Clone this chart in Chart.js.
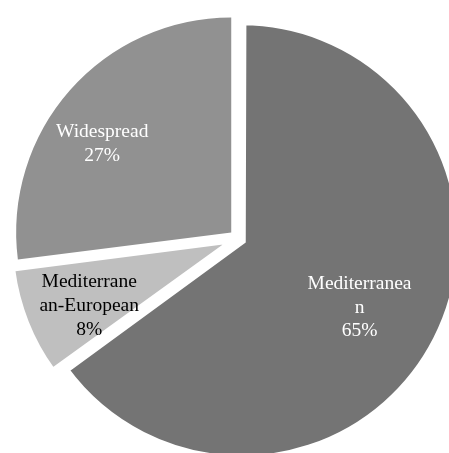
<!DOCTYPE html>
<html>
<head>
<meta charset="utf-8">
<script src="https://cdn.jsdelivr.net/npm/chart.js@4.4.1/dist/chart.umd.min.js"></script>
<style>
  html, body { margin: 0; padding: 0; background: #fff; }
  #wrap { width: 449px; height: 453px; }
</style>
</head>
<body>
<div id="wrap"><canvas id="pieChart" width="449" height="453"></canvas></div>
<script>
// Distribution of species by range type
const categories = ['Mediterranean', 'Mediterranean-European', 'Widespread'];
const shares = [65, 8, 27];
const sliceColors = ['#747474', '#bfbfbf', '#919191'];
const labelColors = ['#ffffff', '#000000', '#ffffff'];
// how the category names wrap inside the slices
const labelLines = [['Mediterranea', 'n'], ['Mediterrane', 'an-European'], ['Widespread']];

// label anchor: fraction of radius, angle shift from slice middle (degrees)
const labelAt = [
  { r: 0.65, da: 2.6 },
  { r: 0.76, da: -2.8 },
  { r: 0.77, da: -6.5 }
];

const total = shares.reduce((a, b) => a + b, 0);

const sliceLabels = {
  id: 'sliceLabels',
  afterDatasetsDraw(chart) {
    const ctx = chart.ctx;
    const meta = chart.getDatasetMeta(0);
    ctx.save();
    ctx.font = '19.5px "Liberation Serif", "Times New Roman", serif';
    ctx.textAlign = 'center';
    ctx.textBaseline = 'middle';
    const lineH = 23.8;
    meta.data.forEach((arc, i) => {
      const p = arc.getProps(['x', 'y', 'startAngle', 'endAngle', 'outerRadius'], true);
      const mid = (p.startAngle + p.endAngle) / 2 + labelAt[i].da * Math.PI / 180;
      const rr = p.outerRadius * labelAt[i].r;
      const cx = p.x + Math.cos(mid) * rr;
      const cy = p.y + Math.sin(mid) * rr;
      const lines = labelLines[i].concat([Math.round(shares[i] / total * 100) + '%']);
      ctx.fillStyle = labelColors[i];
      lines.forEach((txt, k) => {
        ctx.fillText(txt, cx, cy + (k - (lines.length - 1) / 2) * lineH);
      });
    });
    ctx.restore();
  }
};

const ctx = document.getElementById('pieChart').getContext('2d');
const pieChart = new Chart(ctx, {
  type: 'pie',
  data: {
    labels: categories,
    datasets: [{
      data: shares,
      backgroundColor: sliceColors,
      borderColor: '#ffffff',
      borderWidth: [8.2, 4, 0],
      borderJoinStyle: 'miter',
      offset: [16.4, 32, 36],
      clip: false
    }]
  },
  options: {
    responsive: false,
    animation: false,
    radius: 215,
    layout: { padding: { left: 27, top: 24, right: 0, bottom: 0 } },
    plugins: {
      legend: { display: false },
      tooltip: { enabled: false }
    },
    events: []
  },
  plugins: [sliceLabels]
});
</script>
</body>
</html>
